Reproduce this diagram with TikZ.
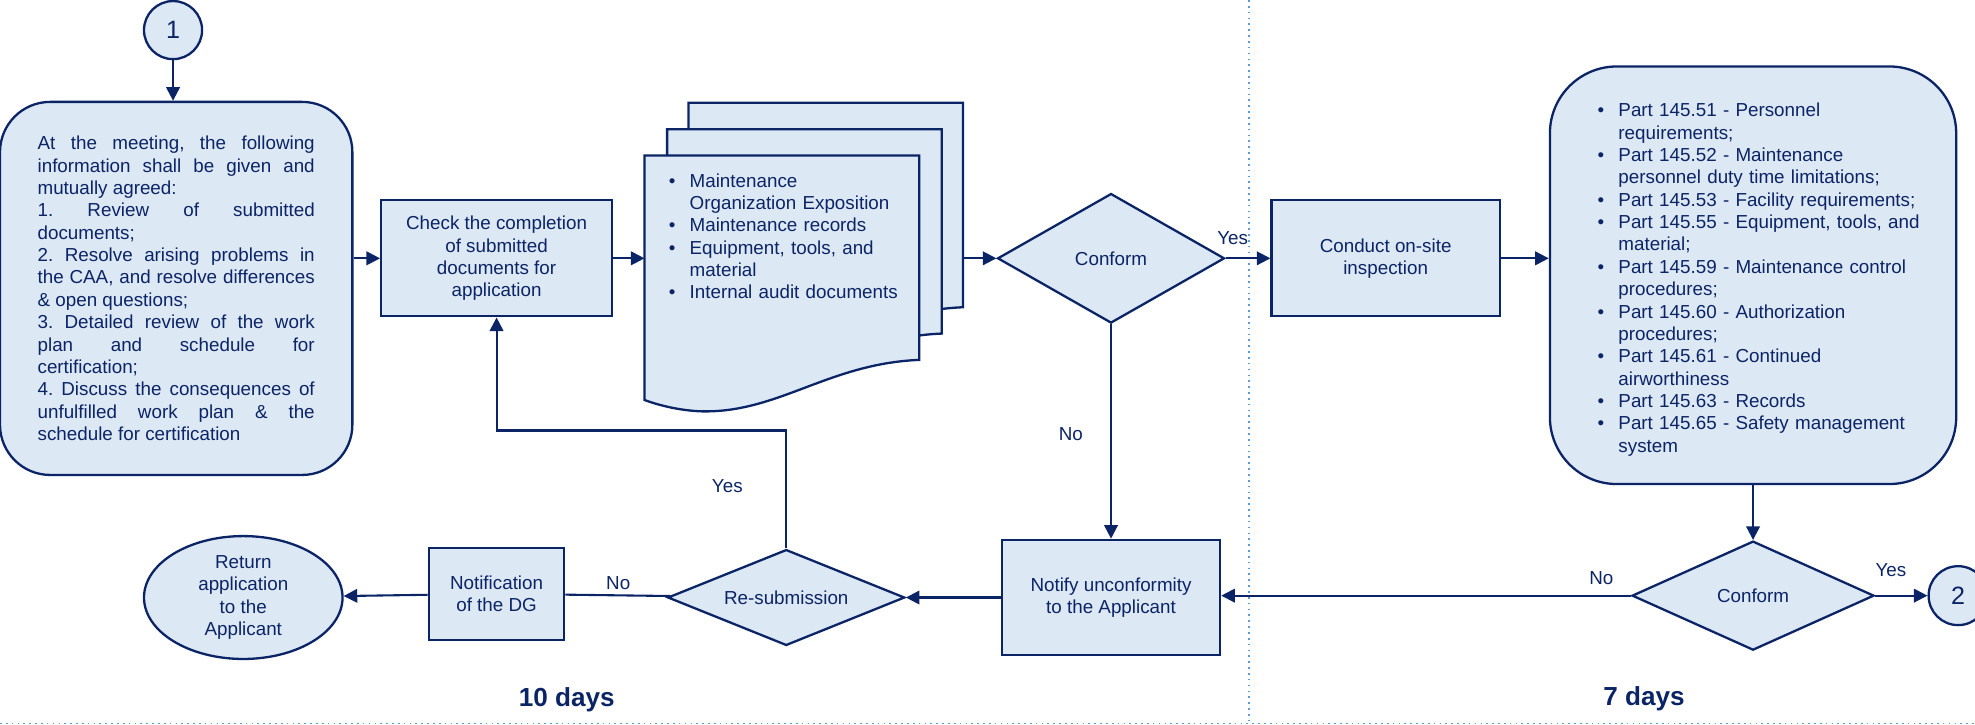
\documentclass[tikz,border=0pt]{standalone}
\usepackage{fontspec}
\setmainfont{Liberation Sans}
\usepackage{tikz}
\usetikzlibrary{positioning,shapes.geometric,arrows.meta}

\definecolor{navy}{HTML}{0B2466}
\definecolor{paleblue}{HTML}{DDE8F5}
\definecolor{dotblue}{HTML}{5B9BD5}

\setlength{\parindent}{0pt}
\newcommand{\dotitem}{\par\noindent\hangindent=10pt\hangafter=1\makebox[10pt][l]{\textbullet}}

\begin{document}
\frenchspacing
\begin{tikzpicture}[x=0.6pt, y=-0.6pt,
    every node/.style={text=navy, font=\fontsize{9}{10.7}\selectfont},
    procbox/.style={rectangle, draw=navy, fill=paleblue, line width=1.1pt, align=center, inner sep=2pt},
    roundbox/.style={procbox, rounded corners=24pt},
    decision/.style={diamond, draw=navy, fill=paleblue, line width=1.1pt, aspect=2.5, inner sep=0pt},
    connector/.style={circle, draw=navy, fill=paleblue, line width=1.1pt, minimum size=27.8pt, inner sep=0pt, font=\fontsize{12}{14}\selectfont},
    page/.style={draw=navy, fill=paleblue, line width=1.1pt},
    flow/.style={draw=navy, line width=1pt, -{Triangle[length=6.5pt, width=6.5pt]}},
    link/.style={draw=navy, line width=1pt},
    tag/.style={inner sep=1pt},
    divider/.style={draw=dotblue, line width=0.8pt, dotted}]

  \useasboundingbox (0,0) rectangle (1575,578);

  % dividers
  \draw[divider] (996,0) -- (996,577);
  \draw[divider] (0,577) -- (1575,577);

  \node[connector] (startOne) at (138,24) {1};
  \node[roundbox, minimum width=168.6pt, minimum height=178.5pt, text width=132.6pt, align=justify] (meeting) at (140.5,230) {At the meeting, the following\linebreak information shall be given and\linebreak mutually agreed:\par 1.\ Review of submitted\linebreak documents;\par 2.\ Resolve arising problems in\linebreak the CAA, and resolve differences\linebreak \&~open questions;\par 3.\ Detailed review of the work\linebreak plan and schedule for\linebreak certification;\par 4.\ Discuss the consequences of\linebreak unfulfilled work plan \& the\linebreak schedule for certification\par};
  \node[procbox, minimum width=110.4pt, minimum height=55.5pt] (checkDocs) at (396,206) {Check the completion\\of submitted\\documents for\\application};

  % stacked documents
  \foreach \dx/\dy in {35/-42, 18/-21, 0/0}
    \draw[page, shift={(\dx,\dy)}] (514,124) -- (733,124) -- (733,287)
      .. controls (660,290) and (620,330) .. (558,328)
      .. controls (540,327) and (525,323) .. (514,319) -- cycle;
  \coordinate (docIn) at (514,206);
  \coordinate (docOut) at (768,206);
  \node[anchor=north west, text width=120pt, align=left, inner sep=0pt] (docList) at (533,131) {\dotitem Maintenance\newline Organization Exposition\dotitem Maintenance records\dotitem Equipment, tools, and\newline material\dotitem Internal audit documents\par};

  \node[decision, minimum width=108.6pt, minimum height=62pt] (conformA) at (886,206) {Conform};
  \node[procbox, minimum width=109.2pt, minimum height=55.5pt] (conductInsp) at (1105,206) {Conduct on-site\\inspection};
  \node[roundbox, rounded corners=32pt, minimum width=194.4pt, minimum height=199.8pt, text width=164pt, align=left] (partsList) at (1398,219.5) {\leftskip=7.6pt
    \dotitem Part 145.51 - Personnel\newline requirements;\dotitem Part 145.52 - Maintenance\newline personnel duty time limitations;\dotitem Part 145.53 - Facility requirements;\dotitem Part 145.55 - Equipment, tools,~and\newline material;\dotitem Part 145.59 - Maintenance control\newline procedures;\dotitem Part 145.60 - Authorization\newline procedures;\dotitem Part 145.61 - Continued\newline airworthiness\dotitem Part 145.63 - Records\dotitem Part 145.65 - Safety management\newline system\par};

  \node[decision, minimum width=115.8pt, minimum height=52.2pt] (conformB) at (1398,475) {Conform};
  \node[connector, minimum size=28.2pt] (endTwo) at (1561.5,475) {2};
  \node[procbox, minimum width=104.4pt, minimum height=55.2pt] (notifyUnconf) at (886,476.5) {Notify unconformity\\to the Applicant};
  \node[decision, minimum width=113.4pt, minimum height=45.9pt] (resubmit) at (627,476.5) {Re-submission};
  \node[procbox, minimum width=64.8pt, minimum height=44pt] (notifyDG) at (396,473.5) {Notification\\of the DG};
  \node[ellipse, draw=navy, fill=paleblue, line width=1.1pt, minimum width=95pt, minimum height=58.8pt, inner sep=0pt, align=center] (returnApp) at (194,476.5) {Return\\application\\to the\\Applicant};

  % branch labels
  \node[tag] (yesA) at (983,190) {Yes};
  \node[tag] (noA) at (854,346) {No};
  \node[tag] (yesLoop) at (580,388) {Yes};
  \node[tag] (noDG) at (493,465) {No};
  \node[tag] (noB) at (1277,461) {No};
  \node[tag] (yesB) at (1508,454.5) {Yes};

  \node[font=\bfseries\fontsize{12.5}{15}\selectfont] (daysTen) at (452,558) {10 days};
  \node[font=\bfseries\fontsize{12.5}{15}\selectfont] (daysSeven) at (1311,557) {7 days};

  \draw[flow] (startOne) -- (startOne |- meeting.north);
  \draw[flow] (meeting.east |- checkDocs) -- (checkDocs);
  \draw[flow] (checkDocs) -- (docIn);
  \draw[flow] (docOut) -- (conformA);
  \draw[flow] (conformA) -- (conductInsp);
  \draw[flow] (conductInsp.east) -- (conductInsp.east -| partsList.west);
  \draw[flow] (conformB.north |- partsList.south) -- (conformB);
  \draw[flow] (conformB) -- (endTwo);
  \draw[flow] (conformB.west) -- (conformB.west -| notifyUnconf.east);
  \draw[flow] (conformA) -- (notifyUnconf);
  \draw[flow] (notifyUnconf) -- (resubmit);
  \draw[link] (resubmit) -- (notifyDG);
  \draw[flow] (notifyDG) -- (returnApp);
  \draw[flow] (resubmit.north) -- ++(0,-94) -| (checkDocs.south);
\end{tikzpicture}
\end{document}
